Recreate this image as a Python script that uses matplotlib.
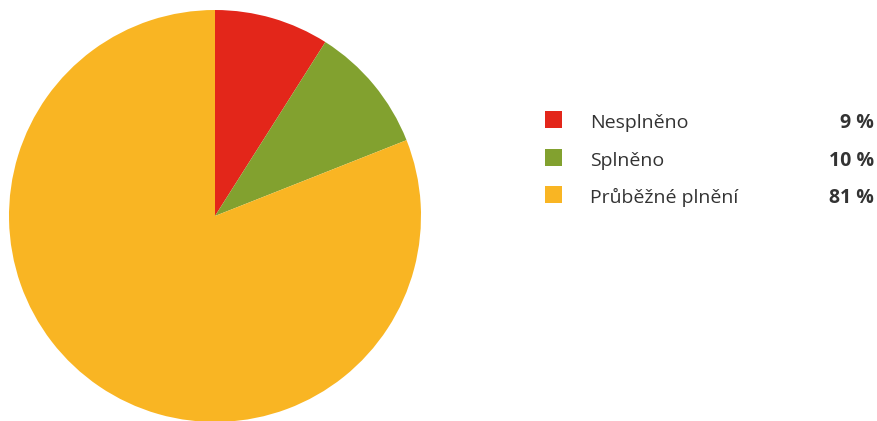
import matplotlib
matplotlib.use("Agg")
import matplotlib.pyplot as plt
from matplotlib.patches import Rectangle

labels = ["Nesplněno", "Splněno", "Průběžné plnění"]
values = [9, 10, 81]
colors = ["#E3261A", "#82A12F", "#F9B523"]

W, H = 878, 421
fig = plt.figure(figsize=(W / 100, H / 100), dpi=100)
fig.patch.set_facecolor("white")

cx, cy, r = 215, 216, 206
ax = fig.add_axes([(cx - r) / W, (H - cy - r) / H, 2 * r / W, 2 * r / H])
ax.pie(values, colors=colors, startangle=90, counterclock=False,
       wedgeprops=dict(linewidth=0), radius=1)
ax.set_xlim(-1, 1)
ax.set_ylim(-1, 1)
ax.set_aspect("equal")
ax.axis("off")

font = "Open Sans"
rows_y = [119.5, 157.5, 194.5]
for lab, val, col, y in zip(labels, values, colors, rows_y):
    fig.patches.append(Rectangle((545 / W, (H - y - 8.5) / H), 17 / W, 17 / H,
                                 transform=fig.transFigure, facecolor=col,
                                 edgecolor="none"))
    base = (H - y - 8.5) / H
    fig.text(590 / W, base, lab, fontsize=14, family=font,
             color="#333333", va="baseline", ha="left")
    fig.text(874 / W, base, f"{val} %", fontsize=14, family=font,
             color="#333333", va="baseline", ha="right", fontweight="bold")

fig.savefig("out.png", dpi=100)
